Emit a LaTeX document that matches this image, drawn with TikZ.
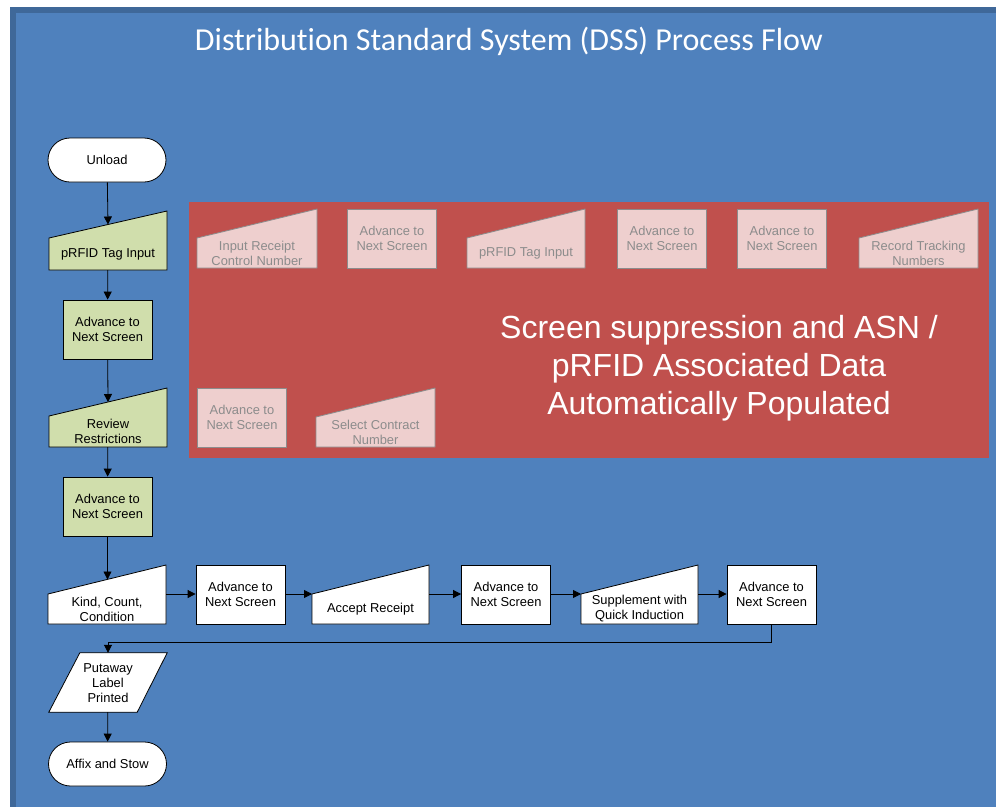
\documentclass[tikz,border=0pt]{standalone}
\usepackage{fontspec}
\setmainfont{Liberation Sans}
\newfontfamily\titlefont[Ligatures=NoCommon]{Carlito}
\usetikzlibrary{calc,arrows.meta}
\definecolor{bgblue}{HTML}{4F81BD}
\definecolor{edgeblue}{HTML}{3F6899}
\definecolor{boxred}{HTML}{C0504D}
\definecolor{greenfill}{HTML}{D0DEAC}
\definecolor{pinkfill}{HTML}{EECFCE}
\definecolor{fadegray}{HTML}{8C8C8C}
\tikzset{
  shp/.style={draw=black, line width=0.8pt, fill=white, text=black},
  gshp/.style={draw=black, line width=0.8pt, fill=greenfill, text=black},
  fshp/.style={draw=fadegray, line width=0.8pt, fill=pinkfill, text=fadegray},
  txt/.style={font=\fontsize{12.9}{15}\selectfont, align=center, inner sep=0pt},
  box/.style={txt, minimum width=89pt, minimum height=59pt},
  term/.style={shp, txt, rounded corners=22pt, minimum width=118pt, minimum height=44pt},
  arr/.style={-{Triangle[length=8pt,width=8pt]}, line width=0.8pt, draw=black},
}
% style, name, xleft, xright, ytopright, ytopleft, ybottom, text
\newcommand\mtrap[8]{%
  \pgfmathsetmacro\trapw{#4-#3}%
  \pgfmathsetmacro\traph{#7-#5}%
  \coordinate (#2-tl) at (#3,#6);
  \node[minimum width=\trapw pt, minimum height=\traph pt, inner sep=0pt, outer sep=0pt] (#2) at ({(#3+#4)/2},{(#5+#7)/2}) {};
  \draw[#1] (#2.south west) -- (#2.south east) -- (#2.north east) -- (#2-tl) -- cycle;
  \coordinate (#2-top) at ($(#2.north east)!0.5!(#2-tl)$);
  \node[#1, txt, draw=none, fill=none] (#2-text) at ({(#3+#4)/2},{(#6+#7)/2}) {#8};
}
\begin{document}
\begin{tikzpicture}[x=1pt,y=-1pt]
\path[use as bounding box, fill=white] (0,0) rectangle (996,807);
\fill[edgeblue] (10,7) rectangle (996,807);
\fill[bgblue] (16,13) rectangle (996,807);
\node[text=white, font=\titlefont\fontsize{32}{36}\selectfont] (title) at (509,41) {Distribution Standard System (DSS) Process Flow};

% red panel
\node[fill=boxred, minimum width=800pt, minimum height=256pt, inner sep=0pt] (red) at (589,330) {};
\node[text=white, align=center, font=\fontsize{32}{38}\selectfont] (redtext) at (719,368) {Screen suppression and ASN /\\pRFID Associated Data\\Automatically Populated};
\mtrap{fshp}{irc}{197}{317}{209}{238}{268}{Input Receipt\\Control Number}
\node[fshp, box] (fadv1) at (392,238.5) {Advance to\\Next Screen};
\mtrap{fshp}{fprfid}{467}{585}{209}{238}{268}{pRFID Tag Input}
\node[fshp, box] (fadv2) at (662,238.5) {Advance to\\Next Screen};
\node[fshp, box] (fadv3) at (782,238.5) {Advance to\\Next Screen};
\mtrap{fshp}{rtn}{859}{978}{209}{238}{268}{Record Tracking\\Numbers}
\node[fshp, box] (fadv4) at (242,417.5) {Advance to\\Next Screen};
\mtrap{fshp}{scn}{316}{435}{388}{417}{447}{Select Contract\\Number}

% main flow
\node[term] (unload) at (107,160) {Unload};
\mtrap{gshp}{prfid}{49}{167}{211}{238}{270}{pRFID Tag Input}
\node[gshp, box] (adv1) at (107.5,329.5) {Advance to\\Next Screen};
\mtrap{gshp}{review}{49}{167}{388}{416}{447}{Review\\Restrictions}
\node[gshp, box] (adv2) at (107.5,506.5) {Advance to\\Next Screen};
\mtrap{shp}{kind}{48}{166}{565}{594}{624}{Kind, Count,\\Condition}
\node[shp, box] (adv3) at (240.5,594.5) {Advance to\\Next Screen};
\mtrap{shp}{accept}{312}{429}{565}{594}{624}{Accept Receipt}
\node[shp, box] (adv4) at (506,594.5) {Advance to\\Next Screen};
\mtrap{shp}{supp}{581}{698}{565}{594}{624}{Supplement with\\Quick Induction}
\node[shp, box] (adv5) at (771.5,594.5) {Advance to\\Next Screen};
\node[minimum width=118pt, minimum height=59pt, inner sep=0pt] (putaway) at (108,682.5) {};
\draw[shp] ($(putaway.north west)+(31,0)$) -- (putaway.north east) -- ($(putaway.south east)+(-30,0)$) -- (putaway.south west) -- cycle;
\node[txt, text=black] (putaway-text) at (108,683) {Putaway\\Label\\Printed};
\node[term] (affix) at (107.5,764) {Affix and Stow};

% connectors
\draw[arr] (unload) -- (prfid-top);
\draw[arr] (prfid) -- (adv1);
\draw[arr] (adv1) -- (review-top);
\draw[arr] (review) -- (adv2);
\draw[arr] (adv2.south) -- (adv2.south |- kind-top);
\draw[arr] (kind-tl -| kind.east) -- (adv3.west |- kind-tl);
\draw[arr] (adv3.east |- accept-tl) -- (accept-tl);
\draw[arr] (accept-tl -| accept.east) -- (adv4.west |- accept-tl);
\draw[arr] (adv4.east |- supp-tl) -- (supp-tl);
\draw[arr] (supp-tl -| supp.east) -- (adv5.west |- supp-tl);
\draw[arr] (adv5.south) -- ++(0,18) -| (putaway.north);
\draw[arr] (putaway) -- (affix);
\end{tikzpicture}
\end{document}
